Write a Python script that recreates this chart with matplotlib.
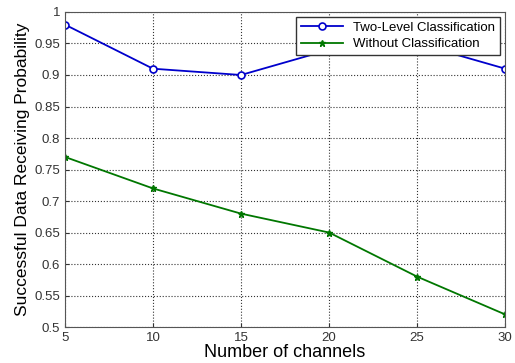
import matplotlib.pyplot as plt

channels = [5, 10, 15, 20, 25, 30]
two_level = [0.98, 0.91, 0.90, 0.94, 0.95, 0.91]
without_cls = [0.77, 0.72, 0.68, 0.65, 0.58, 0.52]

plt.rcParams['font.family'] = ['Liberation Sans', 'DejaVu Sans']

fig = plt.figure(figsize=(5.15, 3.63), dpi=100)
ax = fig.add_axes([0.126, 0.099, 0.855, 0.868])

ax.plot(channels, two_level, '-o', color='#0000cc', lw=1.3, ms=5,
        mfc='white', mew=1.2, label='Two-Level Classification')
ax.plot(channels, without_cls, '-*', color='#007700', lw=1.3, ms=5,
        label='Without Classification')

ax.set_xlim(5, 30)
ax.set_ylim(0.5, 1)
ax.set_xticks(channels)
ax.set_yticks([0.5, 0.55, 0.6, 0.65, 0.7, 0.75, 0.8, 0.85, 0.9, 0.95, 1])
ax.set_yticklabels(['0.5', '0.55', '0.6', '0.65', '0.7', '0.75', '0.8',
                    '0.85', '0.9', '0.95', '1'])
ax.tick_params(labelsize=9.5, direction='in', length=3, colors='#333333')
ax.grid(True, linestyle=':', color='#333333', lw=0.8)
for s in ax.spines.values():
    s.set_color('#555555')

ax.set_xlabel('Number of channels', fontsize=13, labelpad=0)
ax.set_ylabel('Successful Data Receiving Probability', fontsize=12.5, labelpad=3)

leg = ax.legend(loc='upper right', fontsize=9.5, fancybox=False,
                borderaxespad=0.4, handlelength=3.2, borderpad=0.35,
                labelspacing=0.3, framealpha=1)
leg.get_frame().set_edgecolor('#333333')

fig.savefig('out.png', dpi=100)
